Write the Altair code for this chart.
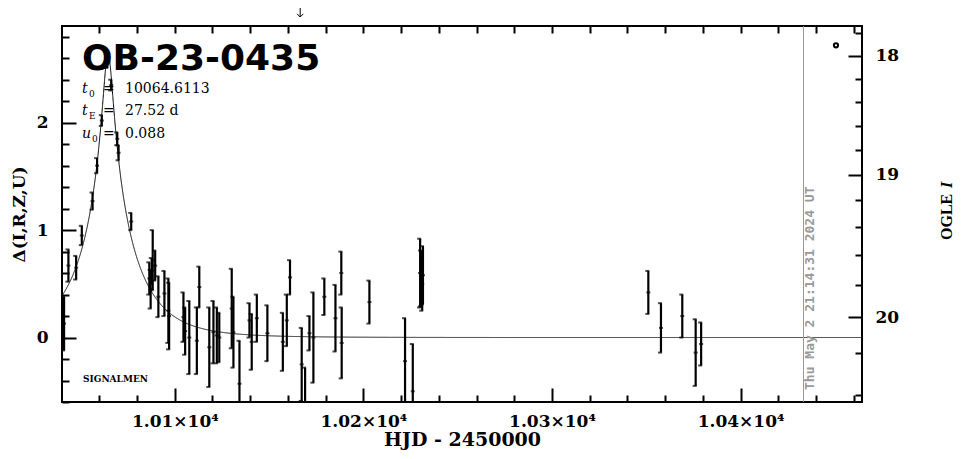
import math
import altair as alt
import pandas as pd
import numpy as np

# ---------------- data ----------------
hjd = [10041.3, 10043.6, 10047.7, 10050.7, 10056.4, 10058.8, 10061.3, 10064.2, 10066.3,
       10069.5, 10070.2, 10076.9, 10086.5, 10087.2, 10087.8, 10088.3, 10089.6, 10091.3,
       10094.5, 10096.6, 10097.0, 10104.6, 10105.5, 10107.7, 10111.7, 10113.0, 10118.3,
       10120.5, 10122.3, 10123.6, 10130.2, 10131.1, 10134.3, 10139.6, 10140.8, 10143.5,
       10149.1, 10157.3, 10159.4, 10161.1, 10167.3, 10169.1, 10171.4, 10173.5, 10179.3,
       10185.2, 10188.3, 10188.5, 10203.2, 10222.1, 10226.2, 10230.1, 10230.6, 10231.2,
       10231.6, 10351.1, 10357.8, 10369.1, 10376.2, 10379.1]
delta = [0.13, 0.67, 0.65, 0.95, 1.27, 1.60, 2.02, 2.58, 2.35,
         1.85, 1.72, 1.08, 0.55, 0.45, 0.62, 0.72, 0.67, 0.38,
         0.41, 0.25, 0.20, 0.19, 0.06, 0.00, -0.03, 0.47, -0.09,
         0.05, 0.02, 0.00, 0.27, 0.05, -0.43, 0.16, -0.04, 0.18,
         0.04, -0.04, 0.16, 0.56, -0.25, -0.70, 0.04, 0.00, 0.38,
         0.18, 0.60, -0.05, 0.33, -0.22, -0.50, 0.60, 0.55, 0.50,
         0.58, 0.42, 0.09, 0.20, -0.14, -0.06]
err = [0.25, 0.15, 0.11, 0.09, 0.08, 0.07, 0.05, 0.07, 0.05,
       0.06, 0.07, 0.08, 0.15, 0.18, 0.12, 0.28, 0.14, 0.19,
       0.21, 0.30, 0.31, 0.23, 0.22, 0.34, 0.31, 0.19, 0.37,
       0.29, 0.26, 0.23, 0.37, 0.33, 0.40, 0.16, 0.26, 0.22,
       0.26, 0.27, 0.24, 0.16, 0.34, 0.42, 0.16, 0.42, 0.17,
       0.31, 0.20, 0.33, 0.20, 0.40, 0.44, 0.32, 0.26, 0.25,
       0.27, 0.20, 0.23, 0.20, 0.31, 0.20]

# model parameters printed on the chart
t0, tE, u0 = 10064.6113, 27.52, 0.088

now_hjd = [10433.38]
now_label = ["Thu May  2 21:14:31 2024 UT"]
arrow_hjd = [10166.5]
marker_hjd = [10450.6]
marker_delta = [2.72]

# right-hand OGLE I axis (magnitudes) and its blending mapping
I_major = [18, 19, 20]
I_minor = [17.8, 18.2, 18.4, 18.6, 18.8, 19.2, 19.4, 19.6, 19.8, 20.2, 20.4]
fs, I0 = 0.59, 20.115

x_major = [10100, 10200, 10300, 10400]
x_minor = [10040, 10060, 10080, 10120, 10140, 10160, 10180, 10220, 10240, 10260, 10280,
           10320, 10340, 10360, 10380, 10420, 10440, 10460]
y_major = [0, 1, 2]
y_minor = [-0.6, -0.4, -0.2, 0.2, 0.4, 0.6, 0.8, 1.2, 1.4, 1.6, 1.8, 2.2, 2.4, 2.6, 2.8]

XDOM = [10040.2, 10464.4]
YDOM = [-0.6, 2.9]
W, H = 800, 376


def mag_to_delta(m):
    g = 10 ** (0.4 * (I0 - m))
    return 2.5 * math.log10(1 + (g - 1) / fs)


R_major = [mag_to_delta(m) for m in I_major]
R_minor = [mag_to_delta(m) for m in I_minor]

# model curve
tt = np.arange(XDOM[0], XDOM[1], 0.05)
uu = np.sqrt(u0 ** 2 + ((tt - t0) / tE) ** 2)
AA = (uu ** 2 + 2) / (uu * np.sqrt(uu ** 2 + 4))
curve = pd.DataFrame({"t": tt, "d": 2.5 * np.log10(AA)})

obs = pd.DataFrame({"t": hjd, "d": delta,
                    "lo": [d - e for d, e in zip(delta, err)],
                    "hi": [d + e for d, e in zip(delta, err)]})

SERIF = "DejaVu Serif"


def xs():
    return alt.Scale(domain=XDOM, nice=False, zero=False)


def ys():
    return alt.Scale(domain=YDOM, nice=False, zero=False)


line = alt.Chart(curve).mark_line(color="black", strokeWidth=1, clip=True).encode(
    x=alt.X("t:Q", scale=xs(), axis=alt.Axis(
        values=x_major, labelExpr="format(datum.value/10000, '.2f') + '×10⁴'",
        ticks=False, domain=False, grid=False, labelFont=SERIF, labelFontSize=17,
        labelFontWeight="bold", labelPadding=11, labelColor="black", labelFlush=False,
        labelOverlap=False, title="HJD - 2450000", titleFont=SERIF, titleFontSize=19,
        titleFontWeight="bold", titleColor="black", titleX=400, titleY=43,
        titleBaseline="alphabetic", titleAlign="center")),
    y=alt.Y("d:Q", scale=ys(), axis=alt.Axis(
        values=y_major, format="d", ticks=False, domain=False, grid=False,
        labelFont=SERIF, labelFontSize=17, labelFontWeight="bold", labelColor="black",
        labelPadding=14, labelFlush=False, title="Δ(I,R,Z,U)", titleFont=SERIF,
        titleFontSize=17, titleFontWeight="bold", titleColor="black", titleX=-43,
        titleY=188, titleAngle=270, titleAlign="center", titleBaseline="middle")),
)

bars = alt.Chart(obs).mark_rule(color="black", strokeWidth=2.2, clip=True).encode(
    x=alt.X("t:Q", scale=xs(), axis=None),
    y=alt.Y("lo:Q", scale=ys(), axis=None), y2="hi:Q")
cap_lo = alt.Chart(obs).mark_tick(color="black", orient="horizontal", size=4, thickness=2,
                                  xOffset=-1, clip=True).encode(
    x=alt.X("t:Q", scale=xs(), axis=None), y=alt.Y("lo:Q", scale=ys(), axis=None))
cap_hi = alt.Chart(obs).mark_tick(color="black", orient="horizontal", size=4, thickness=2,
                                  xOffset=-1, clip=True).encode(
    x=alt.X("t:Q", scale=xs(), axis=None), y=alt.Y("hi:Q", scale=ys(), axis=None))
pts = alt.Chart(obs).mark_tick(color="black", orient="horizontal", size=4, thickness=2,
                               clip=True).encode(
    x=alt.X("t:Q", scale=xs(), axis=None), y=alt.Y("d:Q", scale=ys(), axis=None))

dummy = pd.DataFrame({"t": [10100.0], "d": [0.0]})


def tick_axis(orient, offset, values, size):
    return alt.Axis(orient=orient, offset=offset, values=values, tickSize=size, tickWidth=2,
                    tickColor="black", labels=False, domain=False, grid=False, title=None)


def axis_layer(xax, yax):
    return alt.Chart(dummy).mark_point(opacity=0).encode(
        x=alt.X("t:Q", scale=xs(), axis=xax), y=alt.Y("d:Q", scale=ys(), axis=yax))


ax1 = axis_layer(tick_axis("top", -H, x_minor, 7), tick_axis("right", -W, y_minor, 7))
ax2 = axis_layer(tick_axis("top", -H, x_major, 14), tick_axis("right", -W, y_major, 14))
ax3 = axis_layer(tick_axis("bottom", -H, x_minor, 7), tick_axis("left", -W, R_minor, 7))
ax4 = axis_layer(tick_axis("bottom", -H, x_major, 7), tick_axis("left", -W, R_major, 14))
ax5 = axis_layer(None, alt.Axis(
    orient="right", values=R_major, ticks=False, domain=False, grid=False,
    labelExpr="datum.value > 2 ? '18' : (datum.value > 1 ? '19' : '20')",
    labelFont=SERIF, labelFontSize=17, labelFontWeight="bold", labelColor="black",
    labelPadding=13, labelFlush=False, labelOverlap=False, title=None))

now_df = pd.DataFrame({"t": now_hjd, "label": now_label})
now_rule = alt.Chart(now_df).mark_rule(color="#999999", strokeWidth=1).encode(
    x=alt.X("t:Q", scale=xs(), axis=None))
now_text = alt.Chart(now_df).mark_text(
    angle=270, align="left", baseline="middle", dy=7, color="#999999",
    font="DejaVu Sans Mono", fontWeight="bold", fontSize=13).encode(
    x=alt.X("t:Q", scale=xs(), axis=None), y=alt.value(364), text="label:N")

arrow_df = pd.DataFrame({"t": arrow_hjd})
arrow_line = alt.Chart(arrow_df).mark_rule(color="black", strokeWidth=1).encode(
    x=alt.X("t:Q", scale=xs(), axis=None), y=alt.value(-18), y2=alt.value(-9))
arrow_head = alt.Chart(arrow_df).mark_point(
    shape="M-1,-1L0,0L1,-1", filled=False, color="black", strokeWidth=1, size=40,
    opacity=1).encode(x=alt.X("t:Q", scale=xs(), axis=None), y=alt.value(-9))

mark_df = pd.DataFrame({"t": marker_hjd, "d": marker_delta})
circ = alt.Chart(mark_df).mark_point(shape="circle", filled=False, color="black",
                                     strokeWidth=2, size=18, opacity=1).encode(
    x=alt.X("t:Q", scale=xs(), axis=None), y=alt.Y("d:Q", scale=ys(), axis=None))

one = pd.DataFrame({"a": [0]})


def txt(s, x, y, size, font=SERIF, weight="normal", style="normal", angle=0,
        align="left", baseline="alphabetic"):
    return alt.Chart(one).mark_text(
        text=s, font=font, fontSize=size, fontWeight=weight, fontStyle=style,
        angle=angle, align=align, baseline=baseline, color="black").encode(
        x=alt.value(x), y=alt.value(y))


texts = [
    txt("OB-23-0435", 20, 44, 36, font="DejaVu Sans", weight="bold"),
    txt("t", 20, 67, 14, style="italic"), txt("0", 27, 71, 9),
    txt("=", 41, 67, 14), txt("10064.6113", 63, 67, 14),
    txt("t", 20, 89, 14, style="italic"), txt("E", 27, 93, 9),
    txt("=", 41, 89, 14), txt("27.52 d", 63, 89, 14),
    txt("u", 20, 112, 14, style="italic"), txt("0", 30, 116, 9),
    txt("=", 41, 112, 14), txt("0.088", 63, 112, 14),
    txt("SIGNALMEN", 21, 356, 9, weight="bold"),
    txt("OGLE", 885, 214, 16, font="Liberation Serif", weight="bold", angle=270,
        baseline="middle"),
    txt("I", 885, 162, 16, font="Liberation Serif", weight="bold", style="italic",
        angle=270, baseline="middle"),
]

chart = alt.layer(
    line, bars, cap_lo, cap_hi, pts, ax1, ax2, ax3, ax4, ax5,
    now_rule, now_text, arrow_line, arrow_head, circ, *texts
).resolve_scale(x="independent", y="independent").properties(
    width=W, height=H,
    padding={"left": 54, "top": 18, "right": 95, "bottom": 49},
    autosize=alt.AutoSizeParams(type="none"),
    background="white",
).configure_view(stroke="black", strokeWidth=2)

chart.save("out.html", embed_options={"renderer": "svg", "actions": False})
